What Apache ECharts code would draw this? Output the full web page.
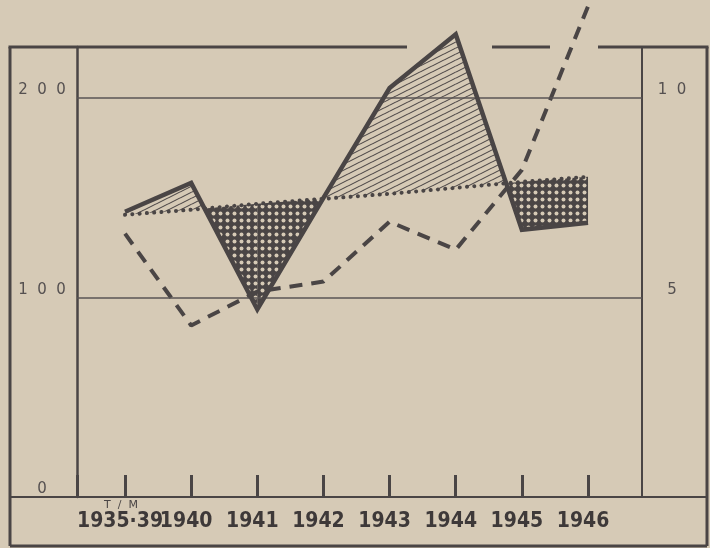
<!DOCTYPE html>
<html>
<head>
<meta charset="utf-8">
<script src="https://cdn.jsdelivr.net/npm/echarts@6/dist/echarts.min.js"></script>
<style>
html,body{margin:0;padding:0;background:#d6cab6;}
#chart{width:710px;height:548px;}
</style>
</head>
<body>
<div id="chart"></div>
<script>
// ---- data ----
const categories = ['1935·39', '1940', '1941', '1942', '1943', '1944', '1945', '1946'];
const solidValues = [143, 157.5, 94, 150, 205, 232, 134, 137.5];      // left axis
const trendValues = [141.5, 144, 147, 149.5, 152, 155, 158, 160.5];   // left axis (dotted)
const dashedValues = [6.6, 4.3, 5.15, 5.4, 6.9, 6.2, 8.2, 12.3];       // right axis
const leftTicks = [0, 100, 200];
const rightTicks = [5, 10];
const gridValues = [100, 200];
const unitNote = 'T  /  M';

// ---- styles ----
const ink = '#4a4545';
const bg = '#d6cab6';

function makeHatch() {
  const c = document.createElement('canvas');
  c.width = 12; c.height = 6;
  const g = c.getContext('2d');
  g.strokeStyle = '#4f4949';
  g.lineWidth = 1.1;
  for (let n = -1; n <= 1; n++) {
    g.beginPath();
    g.moveTo(0, 6 + 6 * n);
    g.lineTo(12, 6 * n);
    g.stroke();
  }
  return c;
}
function makeCross() {
  const c = document.createElement('canvas');
  c.width = 7; c.height = 7;
  const g = c.getContext('2d');
  g.fillStyle = ink;
  g.fillRect(0, 0, 7, 7);
  g.fillStyle = bg;
  g.beginPath();
  g.arc(3.5, 3.5, 2.0, 0, Math.PI * 2);
  g.fill();
  return c;
}
const hatchFill = { image: makeHatch(), repeat: 'repeat' };
const crossFill = { image: makeCross(), repeat: 'repeat' };

const X_MIN = 0.274, X_MAX = 8.816;
// x position of category i is i + 1 (1-based positions on a value axis)
const pos = i => i + 1;
const positions = categories.map((_, i) => pos(i));
const tickValues = [X_MIN].concat(positions);
const toXY = arr => arr.map((v, i) => [pos(i), v]);
const segments = categories.slice(1).map((_, i) => [pos(i), solidValues[i]]);

function renderShade(params, api) {
  const i = params.dataIndex;
  const x0 = pos(i), x1 = pos(i + 1);
  const s0 = solidValues[i], s1 = solidValues[i + 1];
  const d0 = trendValues[i], d1 = trendValues[i + 1];
  const a = s0 - d0, b = s1 - d1;
  const c = (x, y) => api.coord([x, y]);
  const children = [];
  const poly = (pts, above) => children.push({
    type: 'polygon', shape: { points: pts },
    style: { fill: above ? hatchFill : crossFill, stroke: null }
  });
  if (a * b >= 0) {
    poly([c(x0, s0), c(x1, s1), c(x1, d1), c(x0, d0)], a + b > 0);
  } else {
    const t = a / (a - b);
    const xc = x0 + t * (x1 - x0), yc = s0 + t * (s1 - s0);
    poly([c(x0, s0), c(xc, yc), c(x0, d0)], a > 0);
    poly([c(xc, yc), c(x1, s1), c(x1, d1)], b > 0);
  }
  return { type: 'group', children };
}

const spaced = v => String(v).split('').join('  ');
const catLabel = v => {
  const k = Math.round(v);
  return Math.abs(v - k) < 1e-6 && k >= 1 && k <= categories.length ? categories[k - 1] : '';
};

const L = 10, R = 707, T = 47, B = 546, AX = 497;
const frameStyle = { stroke: ink, lineWidth: 3 };

const chart = echarts.init(document.getElementById('chart'));
chart.setOption({
  backgroundColor: bg,
  animation: false,
  grid: { left: 77, right: 68, top: 47, bottom: 51 },
  xAxis: {
    type: 'value', min: X_MIN, max: X_MAX,
    splitLine: { show: false },
    axisLine: { show: false, onZero: false },
    axisTick: {
      show: true, inside: true, length: 22, customValues: tickValues,
      lineStyle: { color: ink, width: 3 }
    },
    axisLabel: {
      customValues: tickValues,
      formatter: catLabel,
      showMinLabel: true, showMaxLabel: true,
      margin: 14, hideOverlap: false,
      fontFamily: '"DejaVu Sans Condensed", sans-serif',
      fontWeight: 'bold', fontSize: 21,
      color: '#3e3939', padding: [0, 10, 0, 0]
    }
  },
  yAxis: [
    {
      type: 'value', min: 0, max: 225.6, interval: 100,
      splitLine: { show: false },
      axisLine: { show: true, onZero: false, lineStyle: { color: ink, width: 2.5 } },
      axisTick: { show: false },
      axisLabel: {
        customValues: leftTicks, formatter: spaced, margin: 35, align: 'center',
        verticalAlign: 'bottom', fontFamily: 'DejaVu Sans', fontSize: 15, color: '#555050'
      }
    },
    {
      type: 'value', min: 0, max: 11.28, position: 'right',
      splitLine: { show: false },
      axisLine: { show: true, onZero: false, lineStyle: { color: ink, width: 2 } },
      axisTick: { show: false },
      axisLabel: {
        customValues: rightTicks, formatter: spaced, margin: 30, align: 'center',
        verticalAlign: 'bottom', fontFamily: 'DejaVu Sans', fontSize: 15, color: '#555050'
      }
    }
  ],
  series: [
    {
      type: 'line', data: [], z: 0, silent: true,
      markLine: {
        silent: true, symbol: 'none', label: { show: false },
        lineStyle: { color: '#5a5555', width: 1.5, type: 'solid' },
        data: gridValues.map(v => ({ yAxis: v }))
      }
    },
    {
      type: 'custom', renderItem: renderShade, data: segments, clip: false, z: 1, silent: true
    },
    {
      type: 'line', data: toXY(trendValues), symbol: 'none', clip: false, z: 3,
      lineStyle: { color: ink, width: 4, type: [0.1, 7.2], cap: 'round' }
    },
    {
      type: 'line', yAxisIndex: 1, data: toXY(dashedValues), symbol: 'none', clip: false, z: 4,
      lineStyle: { color: ink, width: 4, type: [13, 9], cap: 'butt' }
    },
    {
      type: 'line', data: toXY(solidValues), symbol: 'none', clip: false, z: 5,
      lineStyle: { color: ink, width: 4.5, join: 'miter' }
    }
  ],
  graphic: [
    { type: 'line', shape: { x1: L, y1: T, x2: L, y2: B }, style: frameStyle, z: 0 },
    { type: 'line', shape: { x1: R, y1: T, x2: R, y2: B }, style: frameStyle, z: 0 },
    { type: 'line', shape: { x1: L, y1: B, x2: R, y2: B }, style: frameStyle, z: 0 },
    { type: 'line', shape: { x1: L - 1.5, y1: T, x2: 407, y2: T }, style: frameStyle, z: 0 },
    { type: 'line', shape: { x1: 492, y1: T, x2: 550, y2: T }, style: frameStyle, z: 0 },
    { type: 'line', shape: { x1: 598, y1: T, x2: R + 1.5, y2: T }, style: frameStyle, z: 0 },
    { type: 'line', shape: { x1: L, y1: AX, x2: R, y2: AX }, style: { stroke: ink, lineWidth: 2 }, z: 0 },
    {
      type: 'text', x: 121, y: 505, z: 0,
      style: { text: unitNote, fontFamily: 'DejaVu Sans', fontSize: 11, fill: '#4a4545', align: 'center', verticalAlign: 'middle' }
    }
  ]
});
</script>
</body>
</html>
